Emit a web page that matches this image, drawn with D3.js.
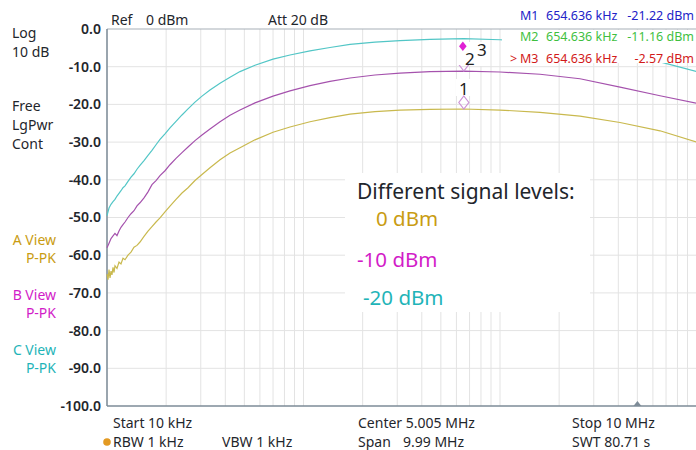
<!DOCTYPE html>
<html>
<head>
<meta charset="utf-8">
<script src="https://cdn.jsdelivr.net/npm/d3@7"></script>
<style>
  html, body { margin: 0; padding: 0; background: #ffffff; }
  svg { display: block; font-family: "Noto Sans", "Open Sans", sans-serif; }
</style>
</head>
<body>
<svg id="chart" width="696" height="450"></svg>
<script>
// Sweep frequencies (kHz) shared by traces B and C
const freqBC = [10, 10.24, 10.48, 10.73, 10.98, 11.24, 11.51, 11.78, 12.06, 12.35, 12.79, 13.25,
  13.72, 14.21, 14.72, 15.43, 16.17, 16.94, 17.76, 18.61, 19.73, 20.92, 22.45, 24.08, 25.84,
  28.04, 30.44, 33.43, 37.6, 42.27, 47.52, 56.64, 69.96, 85.36, 107.9, 136.4, 172.5, 231.1,
  309.8, 440.4, 654.636, 1000, 1598, 2553, 4081, 6521, 10000];

// Trace C (teal), dBm
const levelC = [-49.5, -47.5, -46.5, -45.8, -45.2, -44.3, -43.6, -42.9, -42.1, -41.6, -40.4, -39.3,
  -38.4, -37.2, -36.2, -34.9, -33.5, -32.2, -30.7, -29.3, -27.8, -26.2, -24.5, -22.8, -21.2,
  -19.4, -17.8, -16.2, -14.4, -12.8, -11.3, -9.6, -8.0, -6.9, -5.8, -4.9, -4.1, -3.5,
  -3.1, -2.75, -2.57, -2.85, -3.6, -4.9, -6.6, -8.7, -11.3];

// Trace B (magenta), dBm
const levelB = [-58.0, -56.8, -55.6, -54.9, -54.2, -54.8, -53.6, -52.6, -51.9, -51.2, -50.0, -49.0,
  -48.2, -46.9, -46.1, -44.8, -43.2, -41.3, -40.2, -38.9, -37.6, -36.0, -34.3, -32.8, -31.3,
  -29.6, -28.1, -26.5, -24.6, -22.9, -21.5, -19.6, -17.8, -16.4, -15.0, -13.9, -13.0, -12.2,
  -11.7, -11.3, -11.16, -11.4, -12.0, -13.2, -15.4, -17.7, -19.7];

// Trace A (gold) has a denser, noisier start
const freqA = [10, 10.12, 10.24, 10.36, 10.48, 10.6, 10.73, 10.86, 10.98, 11.24, 11.51, 11.78,
  12.06, 12.35, 12.79, 13.25, 13.72, 14.21, 14.72, 15.43, 16.17, 16.94, 17.76, 18.61, 19.73,
  20.92, 22.45, 24.08, 25.84, 28.04, 30.44, 33.43, 37.6, 42.27, 47.52, 56.64, 69.96, 85.36,
  107.9, 136.4, 172.5, 231.1, 309.8, 440.4, 654.636, 1000, 1598, 2553, 4081, 6521, 10000];
const levelA = [-65.0, -66.5, -63.8, -66.0, -64.2, -65.2, -63.2, -64.6, -62.8, -63.5, -61.8, -62.3,
  -60.8, -61.2, -60.0, -59.2, -57.9, -57.4, -56.5, -55.0, -53.6, -52.4, -51.2, -50.1, -48.5,
  -47.0, -45.2, -43.5, -42.1, -40.2, -38.6, -36.8, -34.7, -32.9, -31.5, -29.4, -27.4, -26.0,
  -24.6, -23.5, -22.6, -21.9, -21.5, -21.3, -21.22, -21.5, -22.1, -23.1, -24.8, -27.0, -30.0];

// Markers (frequency in kHz, level in dBm)
const markerNames = ["M1", "M2", "M3"];
const markerFreq = [654.636, 654.636, 654.636];
const markerLevel = [-21.22, -11.16, -2.57];
const markerFreqText = ["654.636 kHz", "654.636 kHz", "654.636 kHz"];
const markerLevelText = ["-21.22 dBm", "-11.16 dBm", "-2.57 dBm"];

// Amplitude axis
const yTicks = [0, -10, -20, -30, -40, -50, -60, -70, -80, -90, -100];
const centerFreq = 5005; // kHz

const legendTitle = "Different signal levels:";
const legendLabels = ["0 dBm", "-10 dBm", "-20 dBm"];

(function draw() {
  const svg = d3.select("#chart");
  const pl = 107, pr = 696.5, pt = 29, pb = 406;

  const x = d3.scaleLog().domain([10, 10000]).range([pl, pr]);
  const y = d3.scaleLinear().domain([-100, 0]).range([pb, pt]);

  const colA = "#c9b94e", colB = "#a552ad", colC = "#52c6c6";
  const txtA = "#c99c12", txtB = "#d21cc8", txtC = "#1fb4b8";
  const dark = "#1f262c";

  // Grid
  const grid = svg.append("g");
  grid.selectAll("line.v").data(x.ticks()).join("line")
    .attr("x1", d => x(d)).attr("x2", d => x(d))
    .attr("y1", pt).attr("y2", pb)
    .attr("stroke", "#e3e3e3").attr("stroke-width", 1);
  grid.selectAll("line.h").data(yTicks.filter(d => d > -100 && d < 0)).join("line")
    .attr("x1", pl).attr("x2", 696)
    .attr("y1", d => y(d)).attr("y2", d => y(d))
    .attr("stroke", "#e3e3e3").attr("stroke-width", 1);

  // Frame
  svg.append("line").attr("x1", pl).attr("x2", 696).attr("y1", pt).attr("y2", pt)
    .attr("stroke", "#a7b0b8").attr("stroke-width", 1.2);
  svg.append("line").attr("x1", pl).attr("x2", pl).attr("y1", pt).attr("y2", pb)
    .attr("stroke", "#7d8b97").attr("stroke-width", 1.5);
  svg.append("line").attr("x1", pl).attr("x2", 696).attr("y1", pb).attr("y2", pb)
    .attr("stroke", "#7d8b97").attr("stroke-width", 1.5);

  // Centre frequency tick on the bottom edge
  const cx = x(centerFreq);
  svg.append("path")
    .attr("d", `M${cx - 4},${pb} L${cx},${pb - 5} L${cx + 4},${pb} Z`)
    .attr("fill", "#7d8b97");

  // Traces
  const line = d3.line().x(d => x(d[0])).y(d => y(d[1]));
  const traces = [
    { f: freqA, v: levelA, c: colA },
    { f: freqBC, v: levelB, c: colB },
    { f: freqBC, v: levelC, c: colC }
  ];
  svg.append("g").selectAll("path").data(traces).join("path")
    .attr("d", t => line(t.f.map((f, i) => [f, t.v[i]])))
    .attr("fill", "none").attr("stroke", t => t.c).attr("stroke-width", 1.2);

  // Label backgrounds
  svg.append("rect").attr("x", 502).attr("y", pt + 1).attr("width", 194).attr("height", 33).attr("fill", "#fff");
  svg.append("rect").attr("x", 345).attr("y", 173).attr("width", 245).attr("height", 139).attr("fill", "#fff");
  const mx = x(markerFreq[0]);
  svg.append("rect").attr("x", mx - 8).attr("y", 79).attr("width", 17).attr("height", 17).attr("fill", "#fff");
  svg.append("rect").attr("x", mx - 3).attr("y", 42).attr("width", 26).attr("height", 24).attr("fill", "#fff");

  // Marker symbols
  const diamond = (cxp, cyp, w, h) => `M${cxp},${cyp - h} L${cxp + w},${cyp} L${cxp},${cyp + h} L${cxp - w},${cyp} Z`;
  // M1 and M2 sit on their trace; M2's upper half is hidden by its label
  svg.append("path").attr("d", diamond(x(markerFreq[0]), y(markerLevel[0]) - 6.5, 5, 6.5))
    .attr("fill", "none").attr("stroke", "#cc92d6").attr("stroke-width", 1.2);
  svg.append("path").attr("d", diamond(x(markerFreq[1]), y(markerLevel[1]) - 6.5, 5, 6.5))
    .attr("fill", "none").attr("stroke", "#cc92d6").attr("stroke-width", 1.2);
  svg.append("rect").attr("x", mx - 7).attr("y", 50).attr("width", 14).attr("height", 15).attr("fill", "#fff");
  svg.append("path").attr("d", diamond(x(markerFreq[2]) - 1, y(markerLevel[2]) + 7.5, 3.8, 4.8))
    .attr("fill", "#e020d4");

  const mtxt = svg.append("g").attr("fill", "#222").attr("font-size", 17);
  mtxt.append("text").attr("x", mx).attr("y", 95).attr("text-anchor", "middle").text("1");
  mtxt.append("text").attr("x", mx + 6).attr("y", 65).attr("text-anchor", "middle").text("2");
  mtxt.append("text").attr("x", mx + 18).attr("y", 56).attr("text-anchor", "middle").text("3");

  // Amplitude axis labels
  const yAxis = svg.append("g").attr("transform", `translate(${pl},0)`)
    .call(d3.axisLeft(y).tickValues(yTicks).tickSize(0).tickPadding(6).tickFormat(d => d.toFixed(1)));
  yAxis.select(".domain").remove();
  yAxis.selectAll("text").attr("font-size", 14).attr("font-weight", 600)
    .attr("fill", dark).attr("font-family", "'Noto Sans', sans-serif");

  // Side annotations
  const side = svg.append("g").attr("font-size", 14);
  side.append("text").attr("x", 12).attr("y", 38).attr("fill", dark).text("Log");
  side.append("text").attr("x", 12).attr("y", 57).attr("fill", dark).text("10 dB");
  side.append("text").attr("x", 12).attr("y", 110.5).attr("fill", dark).text("Free");
  side.append("text").attr("x", 12).attr("y", 129.5).attr("fill", dark).text("LgPwr");
  side.append("text").attr("x", 12).attr("y", 148.5).attr("fill", dark).text("Cont");
  const views = [["A View", txtA, 245], ["B View", txtB, 300], ["C View", txtC, 355]];
  views.forEach(([t, c, yy]) => {
    side.append("text").attr("x", 56).attr("y", yy).attr("text-anchor", "end").attr("fill", c).text(t);
    side.append("text").attr("x", 56).attr("y", yy + 18).attr("text-anchor", "end").attr("fill", c).text("P-PK");
  });

  // Header
  const head = svg.append("g").attr("font-size", 14).attr("fill", dark);
  head.append("text").attr("x", 111).attr("y", 25).text("Ref");
  head.append("text").attr("x", 146).attr("y", 25).text("0 dBm");
  head.append("text").attr("x", 268).attr("y", 25).text("Att 20 dB");

  // Marker table
  const tableColors = ["#2222c8", "#3fbf3f", "#d21a1a"];
  const rowY = [20, 41, 63];
  const table = svg.append("g").attr("font-size", 12.5);
  markerNames.forEach((m, i) => {
    if (i === 2) table.append("text").attr("x", 510).attr("y", rowY[i]).attr("fill", tableColors[i]).text(">");
    table.append("text").attr("x", 520).attr("y", rowY[i]).attr("fill", tableColors[i]).text(m);
    table.append("text").attr("x", 546).attr("y", rowY[i]).attr("fill", tableColors[i]).text(markerFreqText[i]);
    table.append("text").attr("x", 694).attr("y", rowY[i]).attr("text-anchor", "end")
      .attr("fill", tableColors[i]).text(markerLevelText[i]);
  });

  // Footer
  const foot = svg.append("g").attr("font-size", 14).attr("fill", dark);
  foot.append("text").attr("x", 113).attr("y", 428).text("Start 10 kHz");
  foot.append("circle").attr("cx", 107).attr("cy", 442).attr("r", 3.8).attr("fill", "#e39a23");
  foot.append("text").attr("x", 113).attr("y", 447).text("RBW 1 kHz");
  foot.append("text").attr("x", 222).attr("y", 447).text("VBW 1 kHz");
  foot.append("text").attr("x", 358).attr("y", 428).text("Center  5.005 MHz");
  foot.append("text").attr("x", 358).attr("y", 447).text("Span");
  foot.append("text").attr("x", 403).attr("y", 447).text("9.99 MHz");
  foot.append("text").attr("x", 572).attr("y", 428).text("Stop 10 MHz");
  foot.append("text").attr("x", 572).attr("y", 447).text("SWT 80.71 s");

  // Legend
  const legend = svg.append("g");
  legend.append("text").attr("x", 357).attr("y", 199).attr("font-size", 21).attr("fill", dark).text(legendTitle);
  legend.append("text").attr("x", 376).attr("y", 226).attr("font-size", 20.5).attr("fill", txtA).text(legendLabels[0]);
  legend.append("text").attr("x", 357).attr("y", 267).attr("font-size", 20.5).attr("fill", txtB).text(legendLabels[1]);
  legend.append("text").attr("x", 363).attr("y", 305).attr("font-size", 20.5).attr("fill", txtC).text(legendLabels[2]);
})();
</script>
</body>
</html>
